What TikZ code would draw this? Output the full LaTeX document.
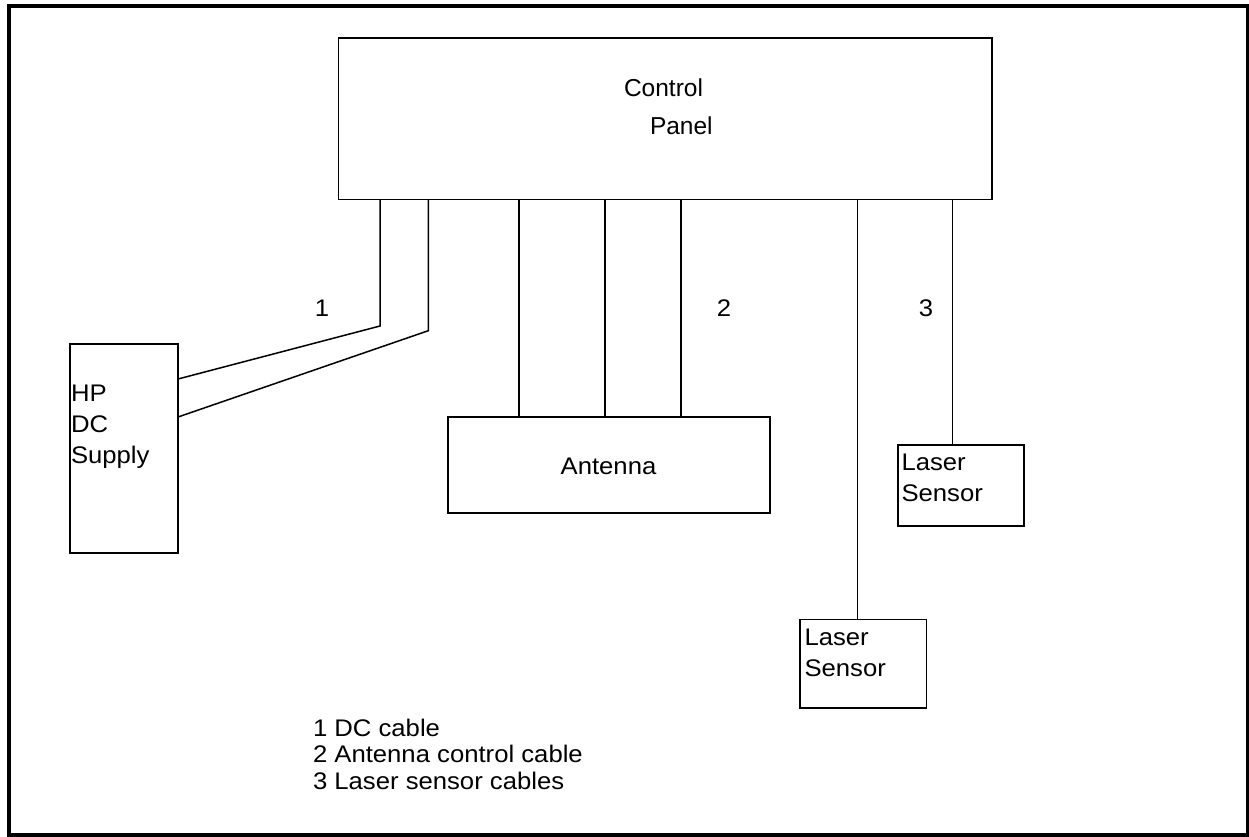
\documentclass[tikz,border=0pt]{standalone}
\usepackage{fontspec}
\setmainfont{Liberation Sans}
\newfontfamily\labfont[FakeStretch=1.07]{Liberation Sans}
\newfontfamily\cpfont{Liberation Sans}
\begin{document}
\begin{tikzpicture}[x=1pt,y=-1pt,
  box/.style={draw, line width=1.6pt, inner sep=0pt, outer sep=0pt},
  wire/.style={line width=1.5pt},
  txt/.style={inner sep=0pt, outer sep=0pt, anchor=base west, font=\labfont\fontsize{24}{28}\selectfont},
  ctxt/.style={inner sep=0pt, outer sep=0pt, anchor=base, font=\labfont\fontsize{24}{28}\selectfont},
  cptxt/.style={inner sep=0pt, outer sep=0pt, anchor=base west, font=\cpfont\fontsize{24.5}{29}\selectfont},
]
\useasboundingbox (0,0) rectangle (1249,836);
\draw[line width=4pt] (9,6) rectangle (1248,835);

% boxes
\node[box, minimum width=653.4pt, minimum height=161.6pt] (cp) at (665,118.5) {};
\node[box, minimum width=108pt, minimum height=209pt] (hp) at (124,448.5) {};
\node[box, minimum width=322pt, minimum height=96pt] (ant) at (609,465) {};
\node[box, minimum width=126.3pt, minimum height=80.7pt] (ls1) at (960.9,485.4) {};
\node[box, minimum width=126.7pt, minimum height=88.7pt] (ls2) at (863.3,663.7) {};

% box texts
\node[cptxt] (tcp1) at (624,96) {Control};
\node[cptxt] (tcp2) at (650,134) {Panel};
\node[txt] (thp1) at (71,401.7) {HP};
\node[txt] (thp2) at (71,432.5) {DC};
\node[txt] (thp3) at (71,463.3) {Supply};
\node[ctxt] (tant) at (608.5,474) {Antenna};
\node[txt] (tls1a) at (901.5,470) {Laser};
\node[txt] (tls1b) at (901.5,501.7) {Sensor};
\node[txt] (tls2a) at (804.5,645) {Laser};
\node[txt] (tls2b) at (804.5,676.7) {Sensor};

% wire labels
\node[ctxt] (n1) at (322,316.5) {1};
\node[ctxt] (n2) at (724,316.5) {2};
\node[ctxt] (n3) at (926,316.5) {3};

% legend
\node[txt] (l1) at (313,736.7) {1 DC cable};
\node[txt] (l2) at (313,762.7) {2 Antenna control cable};
\node[txt] (l3) at (313,789) {3 Laser sensor cables};

% coordinates for wires
\coordinate (a1) at (380,326);
\coordinate (a2) at (428.3,330.7);
\coordinate (h1) at (0,379);
\coordinate (h2) at (0,417);
\coordinate (b1) at (519,0);
\coordinate (b2) at (605,0);
\coordinate (b3) at (681,0);
\coordinate (c1) at (857.3,0);
\coordinate (c2) at (952.7,0);

% DC cables
\draw[wire] (cp.south -| a1) -- (a1) -- (hp.east |- h1);
\draw[wire] (cp.south -| a2) -- (a2) -- (hp.east |- h2);
% antenna cables
\draw[wire] (cp.south -| b1) -- (ant.north -| b1);
\draw[wire] (cp.south -| b2) -- (ant.north -| b2);
\draw[wire] (cp.south -| b3) -- (ant.north -| b3);
% laser sensor cables
\draw[wire] (cp.south -| c1) -- (ls2.north -| c1);
\draw[wire] (cp.south -| c2) -- (ls1.north -| c2);
\end{tikzpicture}
\end{document}
